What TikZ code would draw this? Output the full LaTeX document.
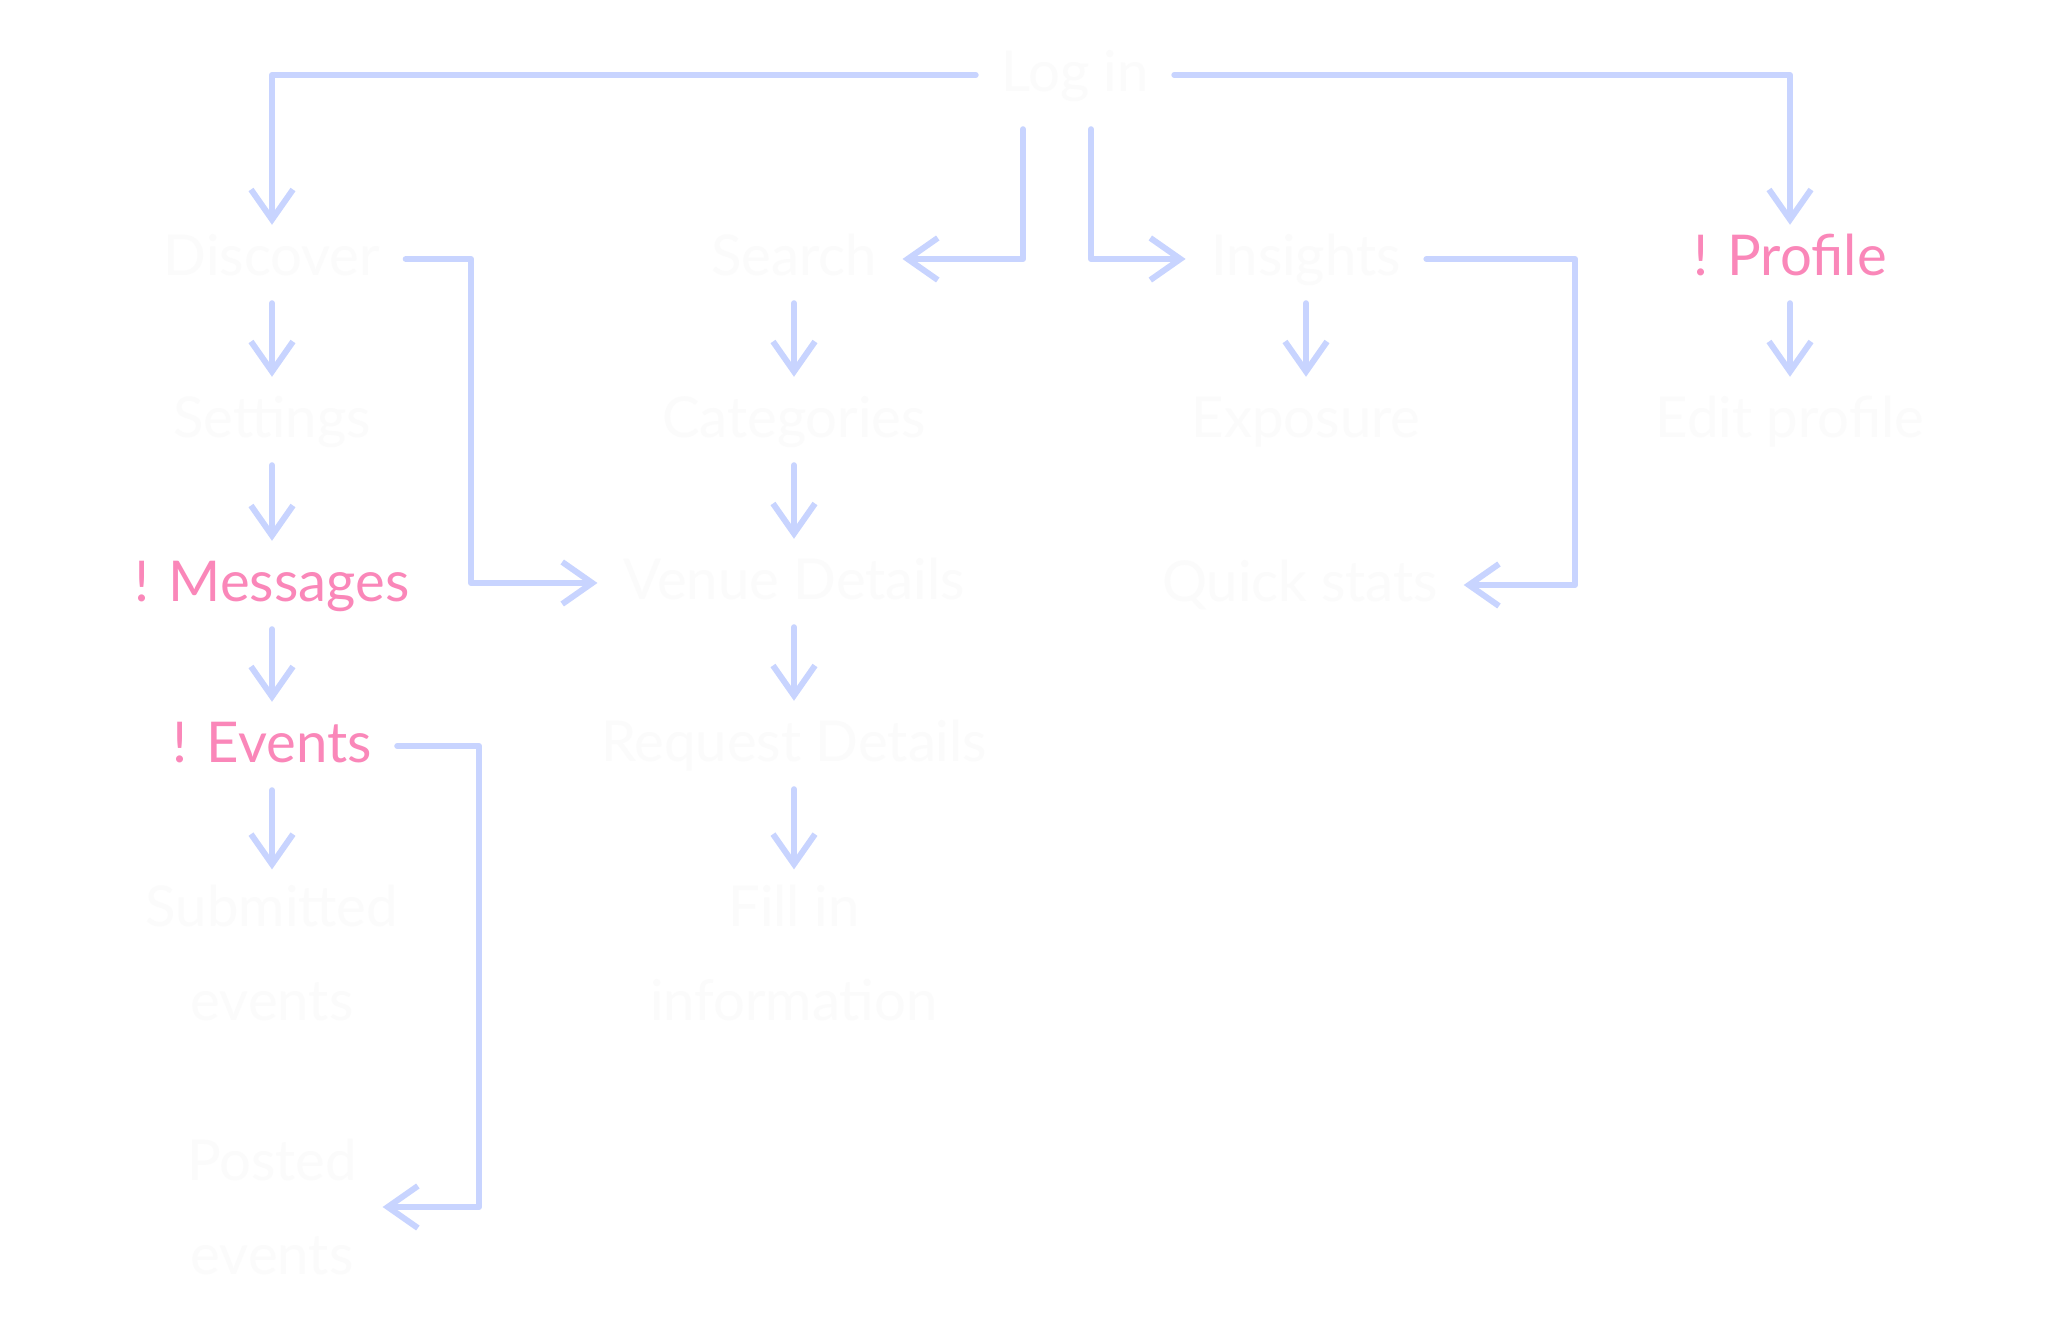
\documentclass[tikz,border=0pt]{standalone}
\usepackage{fontspec}
\setmainfont{Lato}
\usetikzlibrary{arrows.meta}
\definecolor{linkblue}{RGB}{200,212,255}
\definecolor{notepink}{RGB}{250,135,185}
\definecolor{ghost}{RGB}{251,251,251}

\begin{document}
\begin{tikzpicture}[x=0.01cm,y=-0.01cm,
    box/.style={text=ghost,font=\fontsize{16}{26.7}\selectfont,align=center,inner xsep=0.25cm,inner ysep=0.15cm},
    page/.style={box,text height=0.45cm,text depth=0.12cm},
    note/.style={page,text=notepink},
    flow/.style={draw=linkblue,line width=0.06cm,line cap=round,line join=round,-{Straight Barb[length=0.3cm,width=0.42cm]}}]

    % background, fixes the size
    \fill[white] (0,0) rectangle (2048,1337);

    % screens
    \node[page] (login) at (1075,75) {Log in};

    \node[page] (discover) at (272,259) {Discover};
    \node[page] (settings) at (272,421) {Settings};
    \node[note] (messages) at (272,585) {! Messages};
    \node[note] (events) at (272,746) {! Events};
    \node[box] (submitted) at (272,953) {Submitted\\events};
    \node[box] (posted) at (272,1207) {Posted\\events};

    \node[page] (search) at (794,259) {Search};
    \node[page] (categories) at (794,421) {Categories};
    \node[page] (venue) at (794,583) {Venue Details};
    \node[page] (request) at (794,745) {Request Details};
    \node[box] (fillin) at (794,953) {Fill in\\information};

    \node[page] (insights) at (1306,259) {Insights};
    \node[page] (exposure) at (1306,421) {Exposure};
    \node[page] (quickstats) at (1300,585) {Quick stats};

    \node[note] (profile) at (1790,259) {! Profile};
    \node[page] (editprofile) at (1790,421) {Edit profile};

    % bends
    \coordinate (discoverbend) at (471,259);
    \coordinate (eventsbend) at (479,746);
    \coordinate (insightsbend) at (1575,253);

    % from log in
    \draw[flow,shorten >=-0.1cm] (login.west) -| (discover.north);
    \draw[flow,shorten >=-0.1cm] (login.east) -| (profile.north);
    \draw[flow] ([xshift=-0.52cm,yshift=-0.1cm]login.south) |- (search.east);
    \draw[flow] ([xshift=0.16cm,yshift=-0.1cm]login.south) |- (insights.west);

    % down the columns
    \draw[flow] (discover) -- (settings);
    \draw[flow] (settings) -- (messages);
    \draw[flow] (messages) -- (events);
    \draw[flow] (events) -- (submitted);

    \draw[flow] (search) -- (categories);
    \draw[flow] (categories) -- (venue);
    \draw[flow] (venue) -- (request);
    \draw[flow] (request) -- (fillin);

    \draw[flow] (insights) -- (exposure);
    \draw[flow] (profile) -- (editprofile);

    % side branches
    \draw[flow] (discover.east) -- (discover.east -| discoverbend) |- (venue.west);
    \draw[flow] (events.east) -- (events.east -| eventsbend) |- (posted.east);
    \draw[flow] (insights.east) -- (insights.east -| insightsbend) |- (quickstats.east);
\end{tikzpicture}
\end{document}
